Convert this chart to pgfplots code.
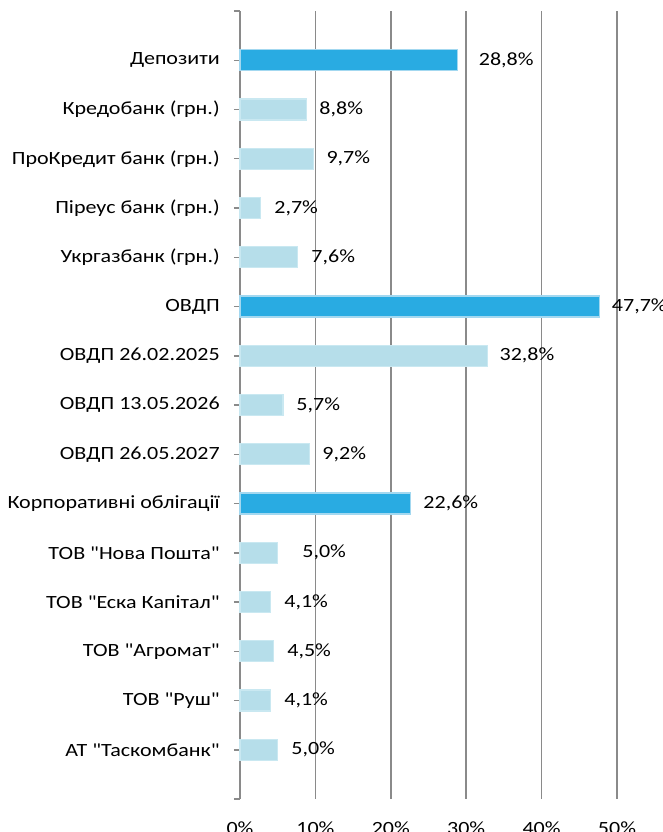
\documentclass[border=0pt]{standalone}
\usepackage{fontspec}
\setmainfont[FakeStretch=1.18, Ligatures=TeXOff]{Carlito}
\usepackage{pgfplots}
\usepackage{pgfplotstable}
\pgfplotsset{compat=1.18}
\definecolor{darkbar}{HTML}{29ABE2}
\definecolor{darkedge}{HTML}{A3D8F0}
\definecolor{lightbar}{HTML}{B6DEEA}
\definecolor{lightedge}{HTML}{C9E8F1}
\definecolor{gridc}{HTML}{8A8A8A}

\pgfplotstableread{
idx lx lab
0 31.65 28,8\%
1 10.50 8,8\%
2 11.44 9,7\%
3 4.52 2,7\%
4 9.44 7,6\%
5 49.30 47,7\%
6 34.40 32,8\%
7 7.45 5,7\%
8 10.90 9,2\%
9 24.30 22,6\%
10 8.24 5,0\%
11 5.85 4,1\%
12 6.25 4,5\%
13 5.85 4,1\%
14 6.78 5,0\%
}\labtable

\begin{document}
\begin{tikzpicture}
\clip (0pt,0pt) rectangle (496.5pt,-624pt);
\begin{axis}[
  at={(180pt,-599.25pt)}, anchor=south west,
  scale only axis, width=282.75pt, height=591pt,
  xmin=0, xmax=50, ymin=-1, ymax=15,
  y dir=reverse,
  clip=false,
  font=\fontsize{14}{16}\selectfont,
  bar width=15.75pt,
  xtick={0,10,...,50},
  xticklabels={0\%,10\%,20\%,30\%,40\%,50\%},
  xmajorgrids,
  major grid style={gridc, line width=1.1pt},
  axis y line*=left, axis x line*=bottom,
  x axis line style={draw=none},
  y axis line style={gridc, line width=1.1pt, -},
  xtick style={draw=none},
  x tick label style={anchor=base, yshift=-22pt},
  ytick={-1,0,...,15},
  yticklabels={{},{Депозити},{Кредобанк (грн.)},{ПроКредит банк (грн.)},{Піреус банк (грн.)},{Укргазбанк (грн.)},{ОВДП},{ОВДП 26.02.2025},{ОВДП 13.05.2026},{ОВДП 26.05.2027},{Корпоративні облігації},{ТОВ "Нова Пошта"},{ТОВ "Еска Капітал"},{ТОВ "Агромат"},{ТОВ "Руш"},{АТ "Таскомбанк"},{}},
  tick align=outside,
  major tick length=4.5pt,
  ytick style={gridc, line width=1.1pt},
  y tick label style={anchor=east, inner sep=0pt, xshift=-10.5pt},
]
\addplot[xbar, bar shift=0pt, fill=darkbar, draw=darkedge, line width=0.8pt] coordinates {(28.8,0) (47.7,5) (22.6,9)};
\addplot[xbar, bar shift=0pt, fill=lightbar, draw=lightedge, line width=0.8pt] coordinates {(8.8,1) (9.7,2) (2.7,3) (7.6,4) (32.8,6) (5.7,7) (9.2,8) (5.0,10) (4.1,11) (4.5,12) (4.1,13) (5.0,14)};
\addplot[only marks, mark=none, nodes near coords, point meta=explicit symbolic,
  nodes near coords align={anchor=west},
  every node near coord/.append style={inner sep=0pt, text=black, font=\fontsize{14}{16}\selectfont}]
  table[x=lx, y=idx, meta=lab] {\labtable};
\end{axis}
\end{tikzpicture}
\end{document}
